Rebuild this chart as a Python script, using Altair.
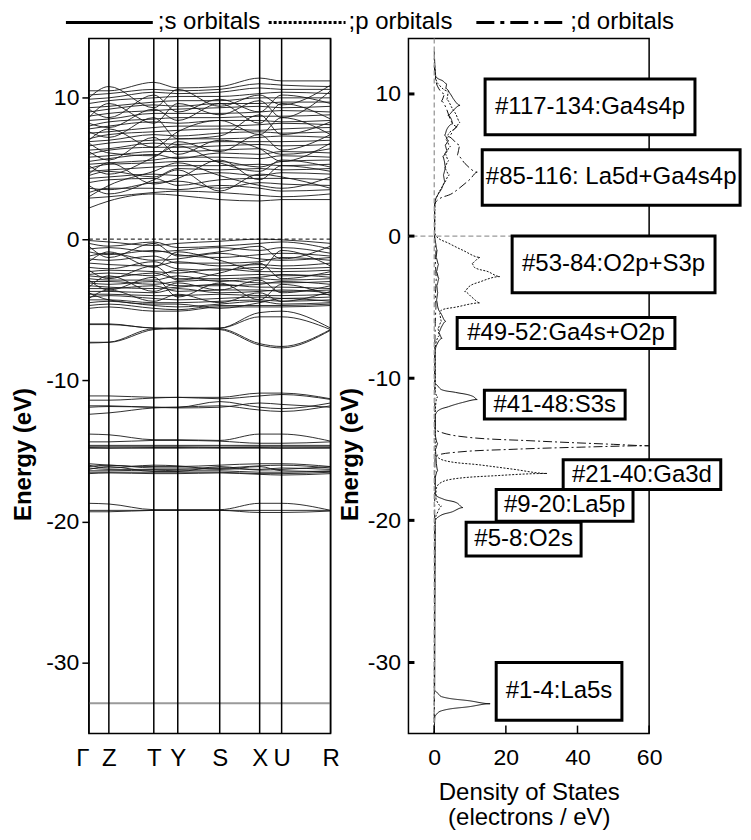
import altair as alt
import pandas as pd

# ---------------- band structure data ----------------
K_LABELS = ["Γ", "Z", "T", "Y", "S", "X", "U", "R"]
K_POS = [0, 20, 65, 89, 131, 171, 193, 242]

CONDUCTION_BANDS = [
    [2.2, 2.7, 3.2, 3.1, 2.8, 2.7, 2.8, 2.8],
    [2.9, 3.0, 3.3, 3.4, 3.3, 3.1, 3.0, 3.2],
    [3.3, 3.6, 3.6, 3.5, 3.8, 3.6, 3.4, 3.5],
    [3.6, 3.5, 4.0, 4.1, 3.6, 4.0, 3.9, 3.8],
    [4.0, 4.2, 4.3, 3.8, 4.2, 4.3, 4.3, 4.2],
    [4.3, 4.4, 4.6, 4.5, 4.7, 4.5, 4.7, 4.6],
    [4.5, 4.8, 4.4, 5.0, 4.9, 5.0, 4.9, 5.0],
    [4.8, 4.9, 5.1, 5.2, 5.2, 5.3, 5.2, 5.3],
    [5.0, 5.3, 5.4, 5.5, 5.5, 5.1, 5.5, 5.6],
    [5.3, 5.4, 5.6, 5.8, 5.8, 5.7, 5.9, 5.8],
    [5.5, 5.7, 6.0, 5.7, 6.1, 6.0, 6.2, 6.1],
    [5.8, 5.9, 6.2, 6.2, 6.3, 6.4, 6.0, 6.4],
    [6.0, 6.3, 6.5, 6.5, 6.6, 6.7, 6.6, 6.7],
    [6.3, 6.4, 6.8, 6.7, 6.9, 6.9, 6.9, 7.0],
    [6.6, 6.8, 7.0, 7.1, 7.1, 7.2, 7.3, 7.2],
    [6.9, 7.0, 7.4, 7.3, 7.5, 7.6, 7.5, 7.6],
    [7.1, 7.4, 7.6, 7.7, 7.8, 7.7, 7.8, 7.9],
    [7.5, 7.6, 7.9, 8.0, 8.0, 8.1, 8.2, 8.1],
    [7.8, 8.0, 8.3, 8.2, 8.4, 8.4, 8.3, 8.4],
    [8.0, 8.3, 8.5, 8.6, 8.6, 8.7, 8.7, 8.8],
    [8.4, 8.5, 8.9, 8.9, 8.9, 9.0, 9.1, 9.0],
    [8.7, 8.9, 9.1, 9.2, 9.3, 9.4, 9.3, 9.4],
    [9.0, 9.2, 9.5, 9.4, 9.6, 9.6, 9.7, 9.7],
    [9.3, 9.4, 9.7, 9.8, 9.8, 10.0, 10.0, 10.0],
    [9.6, 9.8, 10.0, 10.1, 10.1, 10.3, 10.4, 10.3],
    [9.9, 10.0, 10.4, 10.3, 10.4, 10.7, 10.6, 10.6],
    [10.2, 10.3, 10.6, 10.5, 10.6, 11.0, 10.9, 10.8],
    [10.5, 10.5, 11.1, 10.7, 10.8, 11.4, 11.2, 11.2],
    [3.0, 3.8, 4.8, 5.4, 4.5, 3.8, 3.6, 4.4],
    [5.2, 4.6, 5.8, 6.6, 5.4, 4.8, 5.6, 5.1],
    [7.0, 7.8, 6.5, 7.6, 8.4, 7.4, 8.6, 7.4],
    [9.2, 8.6, 10.2, 9.0, 9.9, 9.0, 10.2, 9.6],
    [6.2, 5.6, 7.2, 6.0, 7.0, 6.4, 5.5, 6.8],
    [8.6, 9.6, 8.2, 9.6, 8.8, 9.8, 8.6, 10.5],
    [3.8, 3.2, 4.2, 4.9, 3.4, 4.6, 4.4, 3.6],
    [4.6, 5.4, 3.9, 4.3, 5.6, 4.2, 5.2, 4.8],
    [6.8, 6.1, 5.9, 6.9, 6.2, 7.4, 6.3, 7.4],
    [7.6, 7.2, 8.6, 7.1, 7.3, 8.8, 7.4, 8.3],
    [10.0, 10.8, 9.3, 10.6, 9.4, 10.2, 9.5, 10.9],
    [8.2, 7.9, 9.2, 8.4, 9.6, 8.2, 9.6, 8.5],
]

VALENCE_BANDS = [
    [-0.1, -0.2, -0.45, -0.3, -0.15, 0.0, -0.05, -0.3],
    [-0.3, -0.5, -0.2, -0.6, -0.5, -0.3, -0.2, -0.7],
    [-0.7, -0.6, -0.9, -0.8, -0.6, -0.8, -0.6, -1.0],
    [-0.9, -1.1, -0.8, -1.1, -1.3, -1.1, -1.0, -1.2],
    [-1.2, -1.0, -1.5, -1.4, -1.0, -1.4, -1.5, -1.3],
    [-1.4, -1.5, -1.2, -1.7, -1.7, -1.6, -1.3, -1.5],
    [-1.7, -1.8, -1.9, -1.6, -1.9, -1.8, -1.9, -1.7],
    [-2.0, -2.1, -1.6, -2.1, -2.2, -2.0, -2.1, -2.0],
    [-2.3, -2.2, -2.3, -2.4, -2.1, -2.3, -2.3, -2.2],
    [-2.5, -2.4, -2.6, -2.2, -2.6, -2.5, -2.6, -2.5],
    [-2.6, -2.7, -2.4, -2.8, -2.8, -2.7, -2.5, -2.7],
    [-2.8, -2.9, -2.9, -2.6, -3.0, -2.8, -2.9, -2.8],
    [-3.0, -3.0, -3.2, -3.0, -2.9, -3.1, -3.1, -3.0],
    [-3.1, -3.2, -3.0, -3.3, -3.3, -3.2, -3.0, -3.2],
    [-3.3, -3.4, -3.5, -3.4, -3.2, -3.4, -3.4, -3.5],
    [-3.5, -3.5, -3.3, -3.7, -3.6, -3.6, -3.7, -3.6],
    [-3.7, -3.7, -3.8, -3.5, -3.8, -3.7, -3.6, -3.8],
    [-3.9, -3.9, -4.0, -4.0, -3.9, -4.0, -4.0, -3.9],
    [-4.1, -4.0, -4.2, -4.3, -4.2, -4.1, -4.2, -4.1],
    [-4.3, -4.3, -4.5, -4.5, -4.4, -4.3, -4.4, -4.3],
    [-4.5, -4.4, -4.7, -4.8, -4.6, -4.4, -4.6, -4.5],
    [-4.7, -4.6, -4.9, -5.0, -4.7, -4.7, -4.7, -4.6],
    [-4.9, -4.8, -5.1, -5.1, -4.8, -4.8, -4.8, -4.7],
    [-3.8, -4.3, -4.6, -4.6, -4.9, -4.5, -4.2, -4.4],
    [-0.5, -1.3, -0.3, -1.2, -0.9, -0.5, -1.4, -0.5],
    [-1.6, -0.9, -2.0, -0.9, -1.5, -2.2, -0.8, -1.9],
    [-2.2, -2.8, -1.9, -2.9, -2.4, -1.7, -2.8, -2.3],
    [-3.4, -2.6, -3.7, -3.1, -3.6, -2.9, -3.8, -3.3],
    [-4.2, -3.6, -4.4, -3.9, -4.5, -3.8, -4.4, -3.7],
    [-2.9, -3.6, -2.7, -4.1, -3.1, -4.3, -3.2, -4.0],
]

GA4S_O2P_BANDS = [
    [-6.0, -6.0, -6.3, -6.3, -6.3, -5.5, -5.5, -6.4],
    [-7.35, -7.3, -6.35, -6.35, -6.35, -7.4, -7.6, -6.4],
    [-6.05, -6.05, -6.3, -6.35, -6.3, -5.2, -5.1, -6.3],
    [-7.3, -7.3, -6.4, -6.3, -6.4, -7.5, -7.7, -6.45],
]

S3S_BANDS = [
    [-11.1, -11.1, -11.2, -11.2, -11.2, -10.9, -10.9, -11.3],
    [-11.4, -11.4, -11.25, -11.2, -11.3, -11.1, -11.0, -11.35],
    [-11.8, -11.8, -11.9, -11.9, -11.5, -11.9, -12.0, -11.6],
    [-12.4, -12.3, -11.95, -11.9, -11.8, -12.1, -12.2, -11.8],
    [-11.9, -11.85, -11.9, -11.95, -11.9, -11.6, -11.7, -11.9],
]

LA5P_GA3D_BANDS = [
    [-13.8, -13.85, -14.2, -14.2, -14.25, -13.8, -13.8, -14.3],
    [-14.35, -14.35, -14.25, -14.25, -14.3, -14.45, -14.45, -14.35],
    [-14.6, -14.6, -14.6, -14.6, -14.6, -14.6, -14.6, -14.6],
    [-14.7, -14.7, -14.7, -14.7, -14.72, -14.7, -14.7, -14.7],
    [-14.8, -14.8, -14.75, -14.75, -14.8, -14.8, -14.8, -14.8],
    [-14.75, -14.78, -14.8, -14.8, -14.75, -14.75, -14.78, -14.76],
    [-15.9, -16.0, -16.1, -16.1, -16.0, -15.9, -15.9, -16.1],
    [-16.1, -16.0, -16.2, -16.2, -16.2, -16.05, -16.0, -16.2],
    [-16.2, -16.3, -16.3, -16.3, -16.25, -16.3, -16.2, -16.3],
    [-16.4, -16.4, -16.35, -16.4, -16.4, -16.5, -16.5, -16.4],
    [-16.5, -16.5, -16.5, -16.5, -16.5, -16.6, -16.6, -16.5],
    [-16.6, -16.55, -16.6, -16.6, -16.55, -16.65, -16.7, -16.6],
    [-16.3, -16.1, -16.45, -16.45, -16.1, -16.35, -16.3, -16.1],
    [-16.0, -16.2, -16.0, -16.05, -16.3, -16.1, -16.4, -16.45],
]

O2S_BANDS = [
    [-18.7, -18.75, -19.15, -19.15, -19.15, -18.7, -18.7, -19.2],
    [-19.3, -19.3, -19.2, -19.2, -19.2, -19.35, -19.35, -19.25],
    [-19.2, -19.2, -19.2, -19.2, -19.2, -19.2, -19.2, -19.2],
]

LA5S_BANDS = [
    [-32.85, -32.85, -32.85, -32.85, -32.85, -32.85, -32.85, -32.85],
]

FERMI = [0]

# ---------------- DOS data ----------------
S_E = [13.0, 11.5, 11.2, 10.9, 10.7, 10.4, 10.0, 9.6, 9.2, 8.9, 8.5, 8.2, 7.9, 7.5, 7.1,
       6.7, 6.4, 6.0, 5.6, 5.3, 4.8, 4.3, 3.8, 3.3, 2.9, 2.5, 2.0, 0.0, -0.5, -1.0,
       -1.5, -2.0, -2.5, -3.0, -3.5, -4.0, -4.5, -5.0, -5.5, -6.0, -6.4, -6.8, -7.2, -7.6, -8.0,
       -10.4, -10.8, -11.0, -11.3, -11.5, -11.7, -12.0, -12.3, -12.6, -14.0, -14.6, -15.0, -16.0, -16.5, -17.0,
       -18.2, -18.5, -18.8, -19.1, -19.4, -19.7, -20.0, -32.0, -32.4, -32.7, -32.9, -33.1, -33.4, -33.8, -35.0]
S_D = [0.0, 0.3, 0.5, 2.5, 3.5, 3.2, 4.5, 5.5, 7.2, 5.5, 3.8, 4.8, 5.2, 3.5, 2.9,
       4.0, 3.0, 3.6, 2.4, 2.8, 3.2, 2.5, 3.0, 2.0, 1.0, 0.3, 0.1, 0.1, 0.4, 0.8,
       0.5, 1.2, 0.6, 1.3, 0.7, 1.0, 0.6, 1.0, 2.0, 3.2, 2.0, 1.2, 2.2, 0.8, 0.3,
       0.2, 2.0, 6.0, 11.0, 12.0, 8.0, 4.0, 1.0, 0.3, 0.3, 1.0, 0.3, 0.6, 1.0, 0.3,
       0.3, 2.5, 6.5, 8.0, 5.0, 1.5, 0.3, 0.1, 2.0, 10.0, 15.6, 10.0, 2.0, 0.2, 0.0]

P_E = [12.5, 11.0, 10.6, 10.2, 9.6, 9.0, 8.6, 8.0, 7.6, 7.2, 6.8, 6.3, 5.8, 5.3, 4.8,
       4.3, 3.8, 3.3, 2.8, 2.4, 0.2, 0.0, -0.5, -1.0, -1.5, -1.9, -2.2, -2.5, -2.85, -3.2,
       -3.6, -3.9, -4.3, -4.7, -5.0, -5.2, -5.5, -6.0, -6.5, -7.0, -7.5, -8.0, -11.0, -11.3, -11.6,
       -12.5, -15.4, -15.8, -16.1, -16.4, -16.7, -16.85, -17.1, -17.4, -17.8, -18.5, -19.0, -19.4, -20.0, -35.0]
P_D = [0.0, 0.5, 1.5, 4.0, 3.5, 5.0, 6.0, 7.2, 6.0, 4.0, 3.2, 4.5, 3.0, 4.0, 2.8,
       4.2, 3.0, 1.8, 0.8, 0.2, 0.1, 0.5, 4.0, 8.0, 12.8, 10.5, 11.2, 15.0, 18.3, 13.0,
       9.5, 8.5, 10.5, 12.8, 6.0, 2.0, 1.5, 2.0, 1.0, 1.5, 0.5, 0.2, 0.3, 1.0, 0.5,
       0.2, 0.3, 3.0, 12.8, 22.0, 31.5, 17.6, 5.0, 1.5, 0.5, 0.5, 2.0, 1.0, 0.2, 0.0]

D_E = [12.0, 11.2, 10.5, 10.0, 9.5, 8.9, 8.2, 7.7, 7.0, 6.4, 5.7, 5.1, 4.5, 4.0, 3.7,
       3.0, 2.5, 2.2, 0.0, -1.0, -2.0, -3.0, -4.0, -5.0, -6.0, -8.0, -13.5, -13.7, -14.15, -14.4,
       -14.65, -14.75, -14.85, -15.0, -15.2, -15.4, -15.7, -35.0]
D_D = [0.0, 0.3, 1.0, 3.0, 2.0, 3.5, 4.5, 6.4, 3.9, 7.2, 6.4, 8.6, 12.0, 10.0, 8.6,
       5.0, 0.8, 0.1, 0.1, 0.5, 0.3, 0.6, 0.3, 0.5, 0.3, 0.1, 0.2, 0.8, 9.2, 27.0,
       50.0, 60.0, 41.0, 22.0, 6.4, 1.0, 0.2, 0.0]

ORBITALS = [";s orbitals", ";p orbitals", ";d orbitals"]
DOS_TICKS = [0, 20, 40, 60]
E_TICKS = [-30, -20, -10, 0, 10]

BOX_TEXT = ["#117-134:Ga4s4p", "#85-116: La5d+Ga4s4p", "#53-84:O2p+S3p", "#49-52:Ga4s+O2p",
            "#41-48:S3s", "#21-40:Ga3d", "#9-20:La5p", "#5-8:O2s", "#1-4:La5s"]
BOX_X1 = [14.2, 13.4, 21.75, 6.4, 14.0, 36.0, 17.3, 8.9, 17.3]
BOX_X2 = [72.8, 85.4, 78.4, 67.2, 53.3, 80.0, 55.5, 41.0, 52.4]
BOX_Y1 = [11.05, 6.08, 0.0, -5.73, -10.84, -15.73, -17.83, -20.14, -30.0]
BOX_Y2 = [7.13, 2.17, -3.99, -7.9, -12.87, -17.83, -20.07, -22.5, -34.06]

FONT = "Liberation Sans"
DASHES = [[1, 0], [2, 1.5], [9, 3, 2, 3]]
LEGEND_DASHES = [[1, 0], [3, 2], [18, 6, 4, 6]]

# ---------------- tables ----------------
band_rows = []
for name, bl in [("c", CONDUCTION_BANDS), ("v", VALENCE_BANDS), ("g", GA4S_O2P_BANDS),
                 ("s", S3S_BANDS), ("l", LA5P_GA3D_BANDS), ("o", O2S_BANDS)]:
    for i, b in enumerate(bl):
        for k, e in zip(K_POS, b):
            band_rows.append({"band": f"{name}{i}", "k": k, "E": e})
band_df = pd.DataFrame(band_rows)
core_df = pd.DataFrame([{"band": f"la{i}", "k": k, "E": e}
                        for i, b in enumerate(LA5S_BANDS) for k, e in zip(K_POS, b)])

dos_rows = []
for orb, es, ds in zip(ORBITALS, [S_E, P_E, D_E], [S_D, P_D, D_D]):
    for i, (e, d) in enumerate(zip(es, ds)):
        dos_rows.append({"orb": orb, "E": e, "D": d, "idx": i})
dos_df = pd.DataFrame(dos_rows)

box_df = pd.DataFrame({"text": BOX_TEXT, "x1": BOX_X1, "x2": BOX_X2, "y1": BOX_Y1, "y2": BOX_Y2})
box_df["xc"] = (box_df.x1 + box_df.x2) / 2
box_df["yc"] = (box_df.y1 + box_df.y2) / 2

neg_fix = "datum.value < 0 ? '-' + abs(datum.value) : '' + datum.value"

# ---------------- left panel ----------------
LW, LH = 242, 696
xk = alt.Scale(domain=[0, 242], nice=False, zero=False)
yl = alt.Scale(domain=[-35, 14.2], nice=False, zero=False)

label_expr = " : ".join([f"datum.value == {p} ? '{l}'" for p, l in zip(K_POS, K_LABELS)]) + " : ''"

x_axis_left = alt.Axis(
    values=K_POS, labelExpr=label_expr, title=None, ticks=False, domain=False,
    labelFontSize=24, labelPadding=13, labelFont=FONT, labelOverlap=False, labelBound=False,
    labelFlush=False,
    labelAlign={"condition": {"test": "datum.value == 0", "value": "right"}, "value": "center"},
    grid=False)
y_axis_left = alt.Axis(
    values=E_TICKS, labelExpr=neg_fix, title="Energy (eV)", titleFontSize=24, titleFontWeight="bold",
    titleX=-65, titleY=416, titleAngle=270, titleBaseline="middle", titleAlign="center",
    labelFontSize=23, tickSize=7, tickWidth=1.5, tickColor="black", labelPadding=3,
    labelOverlap=False, domain=False, grid=False)

left_bands = alt.Chart(band_df).mark_line(
    color="#1a1a1a", strokeWidth=0.9, interpolate="monotone", clip=True
).encode(
    x=alt.X("k:Q", scale=xk, axis=x_axis_left),
    y=alt.Y("E:Q", scale=yl, axis=y_axis_left),
    detail="band:N",
)
left_core = alt.Chart(core_df).mark_line(color="#9a9a9a", strokeWidth=2, clip=True).encode(
    x=alt.X("k:Q", scale=xk, axis=x_axis_left), y=alt.Y("E:Q", scale=yl, axis=y_axis_left),
    detail="band:N")
left_vlines = alt.Chart(pd.DataFrame({"k": K_POS})).mark_rule(color="black", strokeWidth=1.5).encode(
    x=alt.X("k:Q", scale=xk, axis=x_axis_left))
left_fermi = alt.Chart(pd.DataFrame({"E": FERMI})).mark_rule(
    color="black", strokeWidth=1, strokeDash=[4, 3]).encode(y=alt.Y("E:Q", scale=yl, axis=y_axis_left))

# legend strip drawn above the panels (pixel offsets from the left plot origin)
LEG_LINE = [(-23, 64), (180, 257), (388, 477)]
LEG_TEXT_X = [69, 260, 482]
legend_layers = []
for orb, (xa, xb), tx, dash in zip(ORBITALS, LEG_LINE, LEG_TEXT_X, LEGEND_DASHES):
    src = alt.Chart(pd.DataFrame({"orb": [orb]}))
    legend_layers.append(src.mark_rule(color="black", strokeWidth=3, strokeDash=dash).encode(
        x=alt.value(xa), x2=alt.value(xb), y=alt.value(-16)))
    legend_layers.append(src.mark_text(fontSize=24, font=FONT, color="black", align="left",
                                       baseline="middle").encode(
        x=alt.value(tx), y=alt.value(-17), text="orb:N"))

left = alt.layer(left_bands, left_core, left_vlines, left_fermi, *legend_layers).properties(
    width=LW, height=LH)

# ---------------- right panel ----------------
RW, RH = 241, 696
xd = alt.Scale(domain=[-7.2, 60], nice=False, zero=False)
yr = alt.Scale(domain=[-35.0, 13.9], nice=False, zero=False)

x_axis_right = alt.Axis(
    values=DOS_TICKS, ticks=False, domain=False, grid=False, labelFontSize=23, labelPadding=13,
    title=["Density of States", " (electrons / eV)"], titleFontSize=24, titleFontWeight="normal",
    titleLineHeight=25, titlePadding=11, labelOverlap=False, labelFlush=False)
y_axis_right = alt.Axis(
    values=E_TICKS, labelExpr=neg_fix, ticks=False, domain=False, grid=False,
    labelFontSize=23, labelPadding=8, labelOverlap=False,
    title="Energy (eV)", titleFontSize=24, titleFontWeight="bold",
    titleX=-58, titleY=416, titleAngle=270, titleBaseline="middle", titleAlign="center")

dos_lines = alt.Chart(dos_df).mark_line(
    color="#111", strokeWidth=1, interpolate="monotone", orient="vertical", clip=True
).encode(
    x=alt.X("D:Q", scale=xd, axis=x_axis_right),
    y=alt.Y("E:Q", scale=yr, axis=y_axis_right),
    strokeDash=alt.StrokeDash("orb:N", scale=alt.Scale(domain=ORBITALS, range=DASHES), legend=None),
    order="idx:Q",
)
zero_v = alt.Chart(pd.DataFrame({"D": FERMI})).mark_rule(
    color="#999", strokeWidth=1.3, strokeDash=[5, 3]).encode(x=alt.X("D:Q", scale=xd, axis=x_axis_right))
zero_h = alt.Chart(pd.DataFrame({"E": FERMI})).mark_rule(
    color="#999", strokeWidth=1.3, strokeDash=[5, 3]).encode(y=alt.Y("E:Q", scale=yr, axis=y_axis_right))
x_ticks = alt.Chart(pd.DataFrame({"t": DOS_TICKS})).mark_rule(color="black", strokeWidth=1.5).encode(
    x=alt.X("t:Q", scale=xd, axis=x_axis_right), y=alt.value(RH), y2=alt.value(RH - 8))
y_ticks = alt.Chart(pd.DataFrame({"t": E_TICKS})).mark_rule(color="black", strokeWidth=3).encode(
    y=alt.Y("t:Q", scale=yr, axis=y_axis_right), x=alt.value(0), x2=alt.value(6))
boxes = alt.Chart(box_df).mark_rect(fill="white", stroke="black", strokeWidth=3, clip=False).encode(
    x=alt.X("x1:Q", scale=xd, axis=x_axis_right), x2="x2:Q",
    y=alt.Y("y1:Q", scale=yr, axis=y_axis_right), y2="y2:Q")
box_text = alt.Chart(box_df).mark_text(fontSize=24, font=FONT, color="black",
                                       align="center", baseline="middle").encode(
    x=alt.X("xc:Q", scale=xd, axis=x_axis_right), y=alt.Y("yc:Q", scale=yr, axis=y_axis_right),
    text="text:N")

right = alt.layer(dos_lines, zero_v, zero_h, x_ticks, y_ticks, boxes, box_text).properties(
    width=RW, height=RH)

chart = alt.hconcat(left, right, spacing=78, bounds="flush").properties(
    padding={"left": 3, "top": 0, "right": 0, "bottom": 0}
).configure_view(
    stroke="black", strokeWidth=1.5
).configure_axis(
    labelFont=FONT, titleFont=FONT, labelColor="black", titleColor="black", labelOverlap=False
)

chart.save("out.html", embed_options={"renderer": "svg", "actions": False})
